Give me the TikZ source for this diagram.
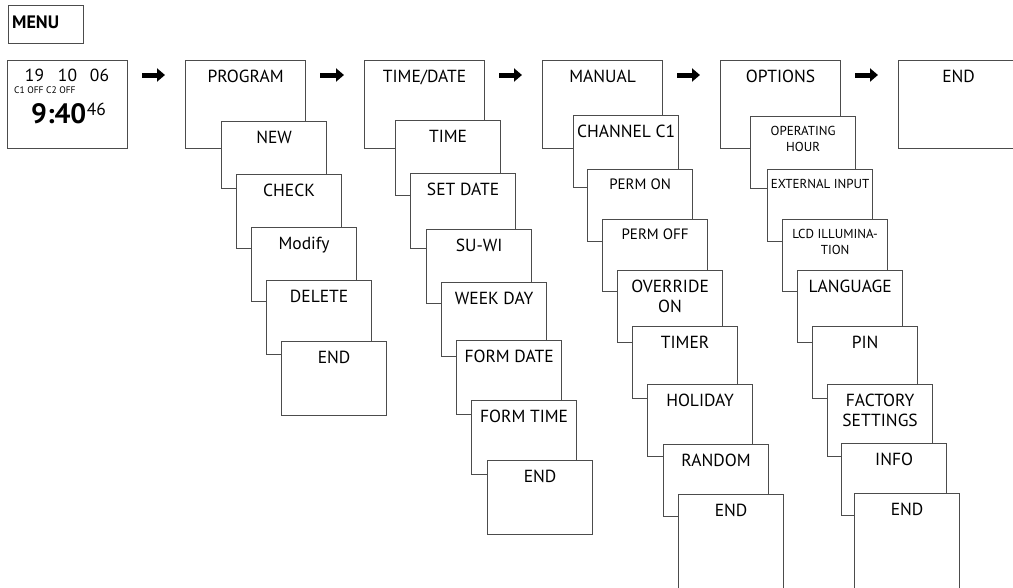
\documentclass[tikz,border=0pt]{standalone}
\usepackage{fontspec}
\setmainfont{PT Sans}
\usetikzlibrary{arrows.meta}

\begin{document}
\begin{tikzpicture}[
    x=1pt, y=-1pt,
    font=\fontsize{17.5}{20}\selectfont,
    frame/.style={draw=black!70, line width=1.2pt, fill=white, inner sep=0pt, anchor=north west},
    mainbox/.style={frame, minimum width=120pt, minimum height=88pt},
    subbox/.style={frame, minimum width=105pt, minimum height=#1},
    subbox/.default=74pt,
    caption/.style={anchor=north, inner sep=0pt, yshift=-10pt, align=center},
    smallcap/.style={caption, font=\fontsize{13}{16}\selectfont},
    midcap/.style={caption, font=\fontsize{15}{18}\selectfont},
    navarrow/.style={line width=5pt, -{Triangle[length=8pt, width=13pt]}},
    digits/.style={anchor=base, inner sep=0pt},
  ]

  \useasboundingbox (0,0) rectangle (1013,587);
  \clip (0,0) rectangle (1013,587);

  % Title
  \node[frame, minimum width=75pt, minimum height=38pt] (menu) at (8,5) {};
  \node[anchor=base west, inner sep=0pt, font=\fontsize{18}{20}\selectfont\bfseries]
    (menutitle) at ([shift={(4,23)}]menu.north west) {MENU};

  % Clock display: date, channel states, time
  \node[mainbox] (clock) at (7,60) {};
  \node[digits] (day) at (34.5,81.5) {19};
  \node[digits] (month) at (67.5,81.5) {10};
  \node[digits] (year) at (99.5,81.5) {06};
  \node[anchor=base west, inner sep=0pt, font=\fontsize{9.5}{11}\selectfont]
    (chan) at (14,93) {C1 OFF C2 OFF};
  \node[anchor=base west, inner sep=0pt, font=\fontsize{28}{32}\selectfont\bfseries]
    (hours) at (31,123) {9:40};
  \node[anchor=north west, inner sep=0pt] (secs) at (hours.north east) {46};

  % Main menu row
  \node[mainbox, label={[caption]north:PROGRAM}] (prog) at (185,60) {};
  \node[mainbox, label={[caption]north:TIME/DATE}] (date) at (364,60) {};
  \node[mainbox, label={[caption]north:MANUAL}] (man) at (542,60) {};
  \node[mainbox, label={[caption]north:OPTIONS}] (opt) at (720,60) {};
  \node[mainbox, label={[caption]north:END}] (fin) at (898,60) {};

  \draw[navarrow] ([shift={(14,15)}]clock.north east) -- ([shift={(-20,15)}]prog.north west);
  \draw[navarrow] ([shift={(14,15)}]prog.north east) -- ([shift={(-20,15)}]date.north west);
  \draw[navarrow] ([shift={(14,15)}]date.north east) -- ([shift={(-20,15)}]man.north west);
  \draw[navarrow] ([shift={(14,15)}]man.north east) -- ([shift={(-20,15)}]opt.north west);
  \draw[navarrow] ([shift={(14,15)}]opt.north east) -- ([shift={(-20,15)}]fin.north west);

  % PROGRAM submenu
  \node[subbox=67pt, label={[caption]north:NEW}] (prognew) at (221,121) {};
  \node[subbox, label={[caption]north:CHECK}] (progcheck) at (236,174) {};
  \node[subbox, label={[caption]north:Modify}] (progmod) at (251,227) {};
  \node[subbox, label={[caption]north:DELETE}] (progdel) at (266,280) {};
  \node[subbox, label={[caption]north:END}] (progend) at (281,341) {};

  % TIME/DATE submenu
  \node[subbox=75pt, label={[caption]north:TIME}] (datetime) at (395,120) {};
  \node[subbox=75pt, label={[caption]north:SET DATE}] (dateset) at (410,173) {};
  \node[subbox, label={[caption]north:SU-WI}] (datesuwi) at (426,229) {};
  \node[subbox, label={[caption]north:WEEK DAY}] (dateweek) at (441,282) {};
  \node[subbox, label={[caption]north:FORM DATE}] (dateform) at (456,340) {};
  \node[subbox, label={[caption]north:FORM TIME}] (timeform) at (471,400) {};
  \node[subbox, label={[caption]north:END}] (dateend) at (487,460) {};

  % MANUAL submenu
  \node[subbox=72pt, label={[caption]north:CHANNEL C1}] (manchan) at (573,115) {};
  \node[subbox=72pt, label={[midcap]north:PERM ON}] (manon) at (587,169) {};
  \node[subbox=72pt, label={[midcap]north:PERM OFF}] (manoff) at (602,219) {};
  \node[subbox=72pt, label={[caption]north:OVERRIDE\\ON}] (manover) at (617,270) {};
  \node[subbox=72pt, label={[caption]north:TIMER}] (mantimer) at (632,326) {};
  \node[subbox=72pt, label={[caption]north:HOLIDAY}] (manholi) at (647,384) {};
  \node[subbox=72pt, label={[caption]north:RANDOM}] (manrand) at (663,444) {};
  \node[subbox=100pt, label={[caption]north:END}] (manend) at (678,494) {};

  % OPTIONS submenu
  \node[subbox=72pt, label={[smallcap]north:OPERATING\\HOUR}] (opthour) at (750,116) {};
  \node[subbox=72pt, label={[smallcap]north:EXTERNAL INPUT}] (optext) at (767,169) {};
  \node[subbox=72pt, label={[smallcap]north:LCD ILLUMINA-\\TION}] (optlcd) at (782,219) {};
  \node[subbox=72pt, label={[caption]north:LANGUAGE}] (optlang) at (797,270) {};
  \node[subbox=72pt, label={[caption]north:PIN}] (optpin) at (812,326) {};
  \node[subbox=72pt, label={[caption]north:FACTORY\\SETTINGS}] (optfact) at (827,384) {};
  \node[subbox=72pt, label={[caption]north:INFO}] (optinfo) at (841,443) {};
  \node[subbox=100pt, label={[caption]north:END}] (optend) at (854,493) {};
\end{tikzpicture}
\end{document}
